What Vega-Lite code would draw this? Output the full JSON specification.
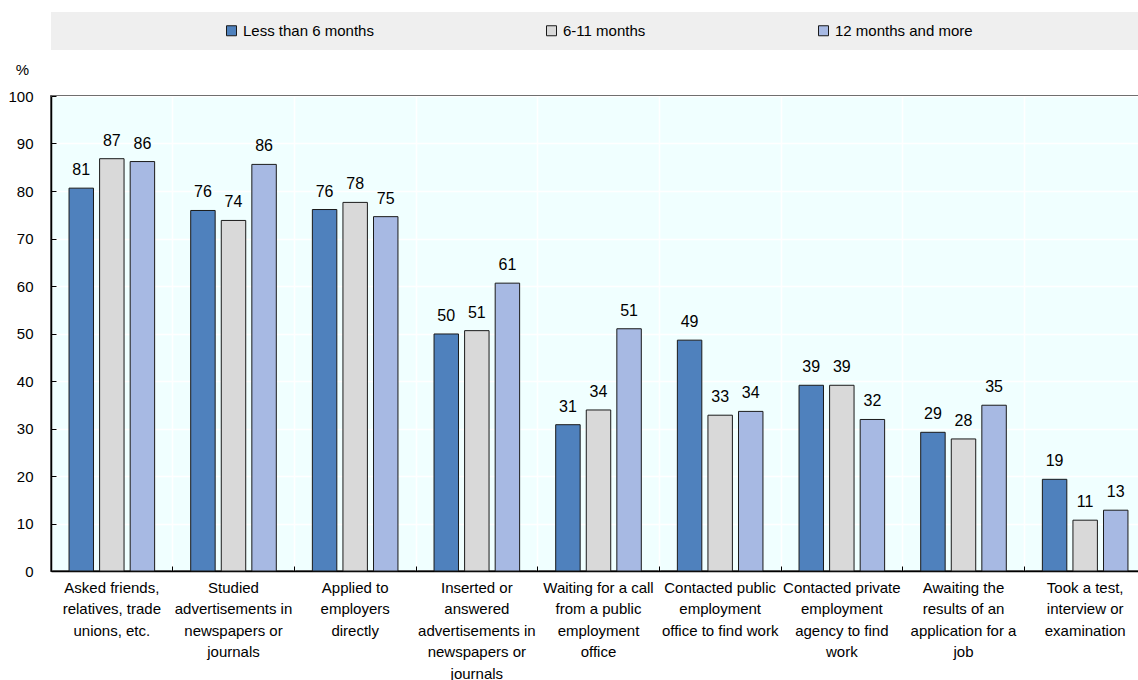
{
  "$schema": "https://vega.github.io/schema/vega-lite/v6.json",
  "autosize": {"type": "pad"},
  "padding": {"left": 7, "top": 12, "right": 0, "bottom": 0},
  "background": "white",
  "spacing": 46,
  "bounds": "flush",
  "config": {
    "font": "Liberation Sans",
    "view": {"stroke": null},
    "axis": {"labelFont": "Liberation Sans", "titleFont": "Liberation Sans"},
    "legend": {"labelFont": "Liberation Sans"}
  },
  "datasets": {
    "bars": [
      {"category": "Asked friends,|relatives, trade|unions, etc.", "duration": "Less than 6 months", "value": 80.6},
      {"category": "Asked friends,|relatives, trade|unions, etc.", "duration": "6-11 months", "value": 86.8},
      {"category": "Asked friends,|relatives, trade|unions, etc.", "duration": "12 months and more", "value": 86.2},
      {"category": "Studied|advertisements in|newspapers or|journals", "duration": "Less than 6 months", "value": 75.9},
      {"category": "Studied|advertisements in|newspapers or|journals", "duration": "6-11 months", "value": 73.8},
      {"category": "Studied|advertisements in|newspapers or|journals", "duration": "12 months and more", "value": 85.6},
      {"category": "Applied to|employers|directly", "duration": "Less than 6 months", "value": 76.1},
      {"category": "Applied to|employers|directly", "duration": "6-11 months", "value": 77.6},
      {"category": "Applied to|employers|directly", "duration": "12 months and more", "value": 74.6},
      {"category": "Inserted or|answered|advertisements in|newspapers or|journals", "duration": "Less than 6 months", "value": 49.9},
      {"category": "Inserted or|answered|advertisements in|newspapers or|journals", "duration": "6-11 months", "value": 50.6},
      {"category": "Inserted or|answered|advertisements in|newspapers or|journals", "duration": "12 months and more", "value": 60.6},
      {"category": "Waiting for a call|from a public|employment|office", "duration": "Less than 6 months", "value": 30.8},
      {"category": "Waiting for a call|from a public|employment|office", "duration": "6-11 months", "value": 33.9},
      {"category": "Waiting for a call|from a public|employment|office", "duration": "12 months and more", "value": 51.0},
      {"category": "Contacted public|employment|office to find work", "duration": "Less than 6 months", "value": 48.6},
      {"category": "Contacted public|employment|office to find work", "duration": "6-11 months", "value": 32.8},
      {"category": "Contacted public|employment|office to find work", "duration": "12 months and more", "value": 33.6},
      {"category": "Contacted private|employment|agency to find|work", "duration": "Less than 6 months", "value": 39.1},
      {"category": "Contacted private|employment|agency to find|work", "duration": "6-11 months", "value": 39.1},
      {"category": "Contacted private|employment|agency to find|work", "duration": "12 months and more", "value": 31.9},
      {"category": "Awaiting the|results of an|application for a|job", "duration": "Less than 6 months", "value": 29.2},
      {"category": "Awaiting the|results of an|application for a|job", "duration": "6-11 months", "value": 27.8},
      {"category": "Awaiting the|results of an|application for a|job", "duration": "12 months and more", "value": 34.9},
      {"category": "Took a test,|interview or|examination", "duration": "Less than 6 months", "value": 19.3},
      {"category": "Took a test,|interview or|examination", "duration": "6-11 months", "value": 10.7},
      {"category": "Took a test,|interview or|examination", "duration": "12 months and more", "value": 12.8}
    ]
  },
  "vconcat": [
    {
      "width": 1095,
      "height": 38,
      "view": {"fill": "#efefef", "stroke": null},
      "data": {"values": []},
      "mark": "point",
      "encoding": {}
    },
    {
      "width": 1095,
      "height": 475,
      "view": {"fill": "#f0ffff", "stroke": "#000000", "strokeWidth": 1.5},
      "data": {"name": "bars"},
      "encoding": {
        "x": {
          "field": "category",
          "type": "nominal",
          "sort": null,
          "title": null,
          "scale": {"paddingInner": 0, "paddingOuter": 0},
          "axis": {
            "bandPosition": 0,
            "grid": true,
            "gridColor": "#ffffff",
            "gridWidth": 1.5,
            "gridOpacity": 1,
            "domainColor": "#000000",
            "domainWidth": 1.5,
            "tickColor": "#000000",
            "tickSize": -5,
            "tickWidth": 1,
            "labelAngle": 0,
            "labelExpr": "split(datum.label, '|')",
            "labelFontSize": 15,
            "labelLineHeight": 21.5,
            "labelColor": "#000000",
            "labelBaseline": "top",
            "labelPadding": 14,
            "labelLimit": 0,
            "labelOverlap": false,
            "labelBound": false
          }
        },
        "xOffset": {
          "field": "duration",
          "type": "nominal",
          "sort": ["Less than 6 months", "6-11 months", "12 months and more"],
          "scale": {"paddingInner": 0.2, "paddingOuter": 0.59}
        },
        "y": {
          "field": "value",
          "type": "quantitative",
          "scale": {"domain": [0, 100], "nice": false},
          "axis": {
            "title": "%",
            "titleAngle": 0,
            "titleX": -29,
            "titleY": -27,
            "titleAlign": "center",
            "titleBaseline": "middle",
            "titleFontSize": 15,
            "titleFontWeight": "normal",
            "titleColor": "#000000",
            "values": [0, 10, 20, 30, 40, 50, 60, 70, 80, 90, 100],
            "grid": true,
            "gridColor": "#ffffff",
            "gridWidth": 1.5,
            "gridOpacity": 1,
            "domainColor": "#000000",
            "domainWidth": 1.5,
            "tickColor": "#000000",
            "tickSize": -5,
            "labelFontSize": 15,
            "labelColor": "#000000",
            "labelPadding": 23,
            "labelBaseline": "middle"
          }
        }
      },
      "layer": [
        {
          "mark": {"type": "bar", "stroke": "#1a1a1a", "strokeWidth": 1},
          "encoding": {
            "color": {
              "field": "duration",
              "type": "nominal",
              "sort": ["Less than 6 months", "6-11 months", "12 months and more"],
              "scale": {
                "domain": ["Less than 6 months", "6-11 months", "12 months and more"],
                "range": ["#4f81bd", "#d9d9d9", "#a7b9e3"]
              },
              "legend": {
                "title": null,
                "orient": "none",
                "direction": "horizontal",
                "legendX": 173,
                "legendY": 11,
                "symbolType": "square",
                "symbolSize": 100,
                "symbolStrokeColor": "#1a1a1a",
                "symbolStrokeWidth": 1,
                "labelFontSize": 15,
                "labelColor": "#000000",
                "labelOffset": 4,
                "columnPadding": 170,
                "padding": 0
              }
            }
          }
        },
        {
          "mark": {"type": "text", "baseline": "alphabetic", "dy": -13, "fontSize": 16, "color": "#000000"},
          "encoding": {
            "text": {"field": "value", "type": "quantitative", "format": ".0f"}
          }
        }
      ]
    }
  ]
}
